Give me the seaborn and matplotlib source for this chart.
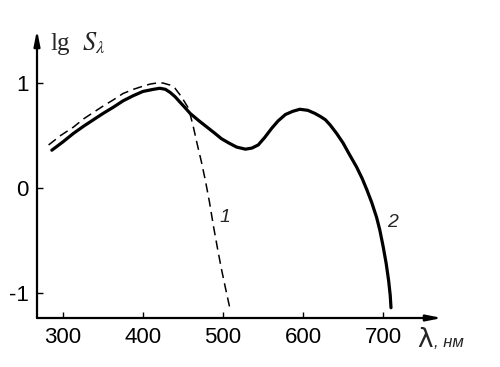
import matplotlib
matplotlib.use("Agg")
import matplotlib.pyplot as plt
import seaborn as sns
import pandas as pd

# Curve 1 (dashed)
wl_1 = [282, 297, 313, 326, 338, 350, 363, 375, 388, 400, 409, 417, 425, 434, 440, 444,
        448, 452, 456, 459, 463, 468, 473, 478, 483, 488, 493, 498, 503, 509]
lg_1 = [0.41, 0.50, 0.58, 0.66, 0.72, 0.78, 0.84, 0.90, 0.94, 0.97, 0.99, 1.00, 1.00, 0.98,
        0.95, 0.91, 0.87, 0.82, 0.77, 0.70, 0.58, 0.41, 0.25, 0.07, -0.13, -0.36, -0.57,
        -0.77, -0.95, -1.16]

# Curve 2 (solid)
wl_2 = [286, 300, 313, 326, 338, 350, 363, 375, 388, 400, 413, 421, 428, 434, 440, 446,
        452, 459, 470, 480, 490, 498, 507, 517, 528, 536, 544, 552, 561, 569, 578, 587,
        596, 606, 615, 622, 628, 634, 642, 650, 658, 667, 674, 680, 686, 692, 696, 700,
        704, 707, 709, 710]
lg_2 = [0.36, 0.44, 0.52, 0.59, 0.65, 0.71, 0.77, 0.83, 0.88, 0.92, 0.94, 0.95, 0.94, 0.91,
        0.87, 0.82, 0.77, 0.71, 0.64, 0.58, 0.52, 0.47, 0.43, 0.39, 0.37, 0.38, 0.41, 0.48,
        0.57, 0.64, 0.70, 0.73, 0.75, 0.74, 0.71, 0.68, 0.65, 0.60, 0.52, 0.43, 0.32, 0.20,
        0.09, -0.02, -0.14, -0.28, -0.40, -0.55, -0.72, -0.88, -1.02, -1.14]

x_ticks = [300, 400, 500, 600, 700]
x_ticklabels = ["300", "400", "500", "600", "700"]
y_ticks = [-1, 0, 1]
y_ticklabels = ["-1", "0", "1"]

sns.set_style("white")
plt.rcParams["font.family"] = ["Liberation Sans", "DejaVu Sans"]
plt.rcParams["mathtext.fontset"] = "stix"

W, H = 500, 367
fig = plt.figure(figsize=(5, 3.67), dpi=100)
ax = fig.add_axes([37 / W, (H - 318) / H, (442 - 37) / W, (318 - 30) / H])

df1 = pd.DataFrame({"wl": wl_1, "lg": lg_1})
df2 = pd.DataFrame({"wl": wl_2, "lg": lg_2})
sns.lineplot(data=df1, x="wl", y="lg", ax=ax, color="black", lw=1.1, sort=False,
             linestyle=(0, (6, 3.5)))
sns.lineplot(data=df2, x="wl", y="lg", ax=ax, color="black", lw=2.3, sort=False,
             solid_joinstyle="round", solid_capstyle="round")

ax.set_xlim(267.5, 773.75)
ax.set_ylim(-1.238, 1.505)
ax.set_xlabel("")
ax.set_ylabel("")
ax.set_xticks(x_ticks)
ax.set_xticklabels(x_ticklabels)
ax.set_yticks(y_ticks)
ax.set_yticklabels(y_ticklabels)
ax.tick_params(axis="both", direction="in", length=4.5, width=1, colors="black",
               labelsize=16, bottom=True, left=True)
ax.tick_params(axis="x", pad=6.5)
ax.tick_params(axis="y", pad=6)
for s in ax.spines.values():
    s.set_visible(False)

# axes with arrows
ax.annotate("", xy=(1, 0), xytext=(0, 0), xycoords="axes fraction",
            arrowprops=dict(arrowstyle="-|>,head_length=0.9,head_width=0.18",
                            lw=1.6, color="black", shrinkA=0, shrinkB=0))
ax.annotate("", xy=(0, 1), xytext=(0, 0), xycoords="axes fraction",
            arrowprops=dict(arrowstyle="-|>,head_length=0.9,head_width=0.18",
                            lw=1.6, color="black", shrinkA=0, shrinkB=0))

# curve labels
fig.text(225 / W, 1 - 218 / H, "1", fontsize=14, style="italic", ha="center", va="center")
fig.text(393 / W, 1 - 222 / H, "2", fontsize=14, style="italic", ha="center", va="center")

# axis labels
fig.text(50 / W, 1 - 50 / H, "lg", fontsize=18, family=["Liberation Serif"],
         ha="left", va="baseline")
fig.text(82 / W, 1 - 50 / H, r"$S_{\lambda}$", fontsize=19, ha="left", va="baseline")
fig.text(417 / W, 1 - 347 / H, "λ", fontsize=19, family=["DejaVu Sans"],
         ha="left", va="baseline")
fig.text(434 / W, 1 - 347 / H, ", нм", fontsize=12, style="italic",
         ha="left", va="baseline")

fig.savefig("out.png", dpi=100)
